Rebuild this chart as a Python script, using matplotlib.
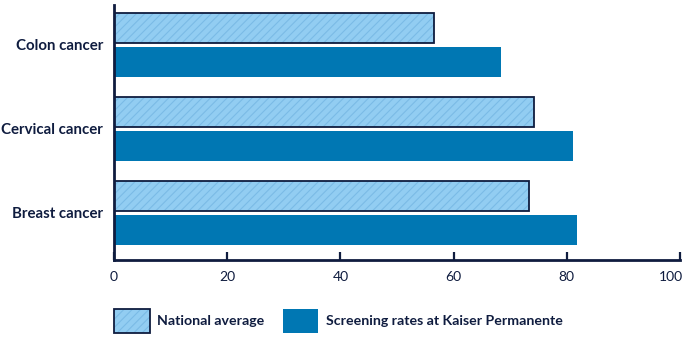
import numpy as np
import matplotlib
matplotlib.use("Agg")
import matplotlib.pyplot as plt
import matplotlib.transforms as mtransforms
from matplotlib.patches import Patch
from matplotlib.legend_handler import HandlerTuple

# data
categories = ["Colon cancer", "Cervical cancer", "Breast cancer"]
national = [56.6, 74.2, 73.4]
kaiser = [68.3, 81.1, 81.8]
xticks = [0, 20, 40, 60, 80, 100]

navy = "#0f1c3f"
light = "#92cdf2"
hatch_c = "#7bbbe6"
dark = "#0077b3"

plt.rcParams["font.family"] = ["Lato", "DejaVu Sans"]
plt.rcParams["hatch.linewidth"] = 0.8

fig = plt.figure(figsize=(6.9, 3.56), dpi=100)
ax = fig.add_axes([0.1652, 0.2697, 0.8203, 0.7163])

y = np.arange(len(categories))[::-1]
h = 0.357
off = h / 2 + 0.024

ax.barh(y + off, national, height=h, color=light, edgecolor=hatch_c,
        hatch="////", linewidth=0)
ax.barh(y + off, national, height=h, fill=False, edgecolor=navy, linewidth=1.3)
ax.barh(y - off, kaiser, height=h, color=dark, linewidth=0)

ax.set_xlim(0, 100)
ax.set_ylim(-0.56, 2.476)
ax.set_xticks(xticks)
ax.set_yticks(y)
ax.set_yticklabels(categories, fontweight="bold")
ax.tick_params(axis="x", direction="in", length=6, width=1.6, color=navy,
               labelcolor=navy, labelsize=10, pad=8)
ax.tick_params(axis="y", length=0, labelcolor=navy, labelsize=10.8, pad=8)
for s in ["top", "right"]:
    ax.spines[s].set_visible(False)
for s in ["left", "bottom"]:
    ax.spines[s].set_color(navy)
    ax.spines[s].set_linewidth(2)

# last tick label sits a little left so it stays inside the picture
last = ax.get_xticklabels()[-1]
last.set_transform(last.get_transform() +
                   mtransforms.ScaledTranslation(-9 / 100, 0, fig.dpi_scale_trans))

h1 = (Patch(facecolor=light, edgecolor=hatch_c, hatch="////", linewidth=0),
      Patch(fill=False, edgecolor=navy, linewidth=1.3))
h2 = Patch(facecolor=dark, linewidth=0)
leg = fig.legend([h1, h2], ["National average", "Screening rates at Kaiser Permanente"],
                 handler_map={tuple: HandlerTuple(ndivide=1)},
                 loc="lower left", bbox_to_anchor=(0.147, 0.03), ncol=2,
                 frameon=False, handlelength=2.5, handleheight=2.2,
                 handletextpad=0.55, columnspacing=1.3,
                 prop={"weight": "bold", "size": 10.2})
for t in leg.get_texts():
    t.set_color(navy)

fig.savefig("out.png", dpi=100)
